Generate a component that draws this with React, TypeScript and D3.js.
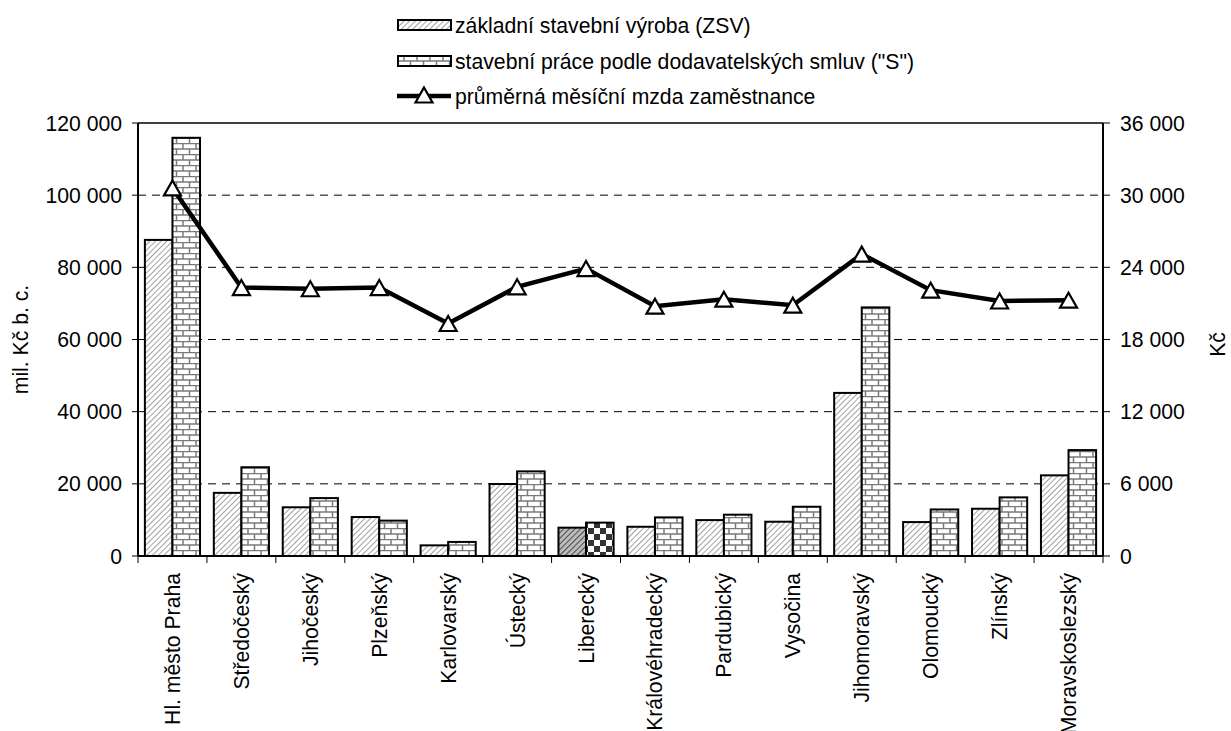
import React from "react";
import * as d3 from "d3";

const categories = [
  "Hl. město Praha",
  "Středočeský",
  "Jihočeský",
  "Plzeňský",
  "Karlovarský",
  "Ústecký",
  "Liberecký",
  "Královéhradecký",
  "Pardubický",
  "Vysočina",
  "Jihomoravský",
  "Olomoucký",
  "Zlínský",
  "Moravskoslezský",
];

const zsvValues = [87600, 17500, 13500, 10800, 2950, 19950, 7850, 8100, 9950, 9500, 45200, 9400, 13100, 22350];
const sValues = [115900, 24600, 16050, 9800, 3900, 23450, 9250, 10700, 11450, 13650, 68900, 12900, 16250, 29350];
const wageValues = [30600, 22320, 22220, 22320, 19330, 22380, 23900, 20770, 21350, 20850, 25100, 22100, 21200, 21270];

const leftTicks = [0, 20000, 40000, 60000, 80000, 100000, 120000];
const rightTicks = [0, 6000, 12000, 18000, 24000, 30000, 36000];

const legendLabels = [
  "základní stavební výroba (ZSV)",
  'stavební práce podle dodavatelských smluv ("S")',
  "průměrná měsíční mzda zaměstnance",
];

const W = 1231;
const H = 731;
const M = { left: 138, right: 1103, top: 123, bottom: 556 };
const FONT = "'Liberation Sans', Arial, sans-serif";
const FS = 21.2;

const fmt = (v: number) => d3.format(",")(v).replace(/,/g, " ");

export default function App() {
  const x = d3.scaleBand<string>().domain(categories).range([M.left, M.right]).padding(0);
  const inner = d3
    .scaleBand<string>()
    .domain(["zsv", "s"])
    .range([0, x.bandwidth()])
    .paddingInner(0)
    .paddingOuter(0.25);
  const yL = d3.scaleLinear().domain([0, 120000]).range([M.bottom, M.top]);
  const yR = d3.scaleLinear().domain([0, 36000]).range([M.bottom, M.top]);

  const cx = (c: string) => (x(c) as number) + x.bandwidth() / 2;
  const lineGen = d3
    .line<number>()
    .x((_, i) => cx(categories[i]))
    .y((d) => yR(d));

  const tri = (px: number, py: number, w = 17, h = 15) =>
    `M${px},${py - h / 2}L${px + w / 2},${py + h / 2}L${px - w / 2},${py + h / 2}Z`;

  const libIdx = categories.indexOf("Liberecký");
  const boundaries = d3.range(categories.length + 1).map((i) => M.left + i * x.step());

  return (
    <svg
      width={W}
      height={H}
      style={{ position: "fixed", left: 0, top: 0, background: "#fff" }}
      fontFamily={FONT}
    >
      <defs>
        <pattern id="hatch" patternUnits="userSpaceOnUse" width="4" height="4" patternTransform="rotate(45)">
          <rect width="4" height="4" fill="#fff" />
          <line x1="0" y1="0" x2="0" y2="4" stroke="#6e6e6e" strokeWidth="1.3" />
        </pattern>
        <pattern id="hatchDark" patternUnits="userSpaceOnUse" width="4" height="4" patternTransform="rotate(45)">
          <rect width="4" height="4" fill="#bbb" />
          <line x1="0" y1="0" x2="0" y2="4" stroke="#303030" strokeWidth="1.6" />
        </pattern>
        <pattern id="brick" patternUnits="userSpaceOnUse" width="13" height="11">
          <rect width="13" height="11" fill="#fff" />
          <line x1="0" y1="0.5" x2="13" y2="0.5" stroke="#7a7a7a" strokeWidth="1.5" />
          <line x1="0" y1="6" x2="13" y2="6" stroke="#7a7a7a" strokeWidth="1.5" />
          <line x1="1" y1="0" x2="1" y2="6" stroke="#7a7a7a" strokeWidth="1.5" />
          <line x1="7.5" y1="6" x2="7.5" y2="11" stroke="#7a7a7a" strokeWidth="1.5" />
        </pattern>
        <pattern id="checker" patternUnits="userSpaceOnUse" width="12" height="12">
          <rect width="12" height="12" fill="#fff" />
          <rect x="0" y="0" width="6" height="6" fill="#333" />
          <rect x="6" y="6" width="6" height="6" fill="#333" />
        </pattern>
      </defs>

      {/* gridlines */}
      {leftTicks
        .filter((t) => t > 0 && t < 120000)
        .map((t) => (
          <line
            key={"g" + t}
            x1={M.left}
            x2={M.right}
            y1={yL(t)}
            y2={yL(t)}
            stroke="#000"
            strokeWidth={1}
            strokeDasharray="8,6"
          />
        ))}

      {/* bars */}
      {categories.map((c, i) => {
        const x0 = x(c) as number;
        const bw = inner.bandwidth();
        const isLib = i === libIdx;
        return (
          <g key={"b" + c}>
            <rect
              x={x0 + (inner("zsv") as number)}
              y={yL(zsvValues[i])}
              width={bw}
              height={M.bottom - yL(zsvValues[i])}
              fill={isLib ? "url(#hatchDark)" : "url(#hatch)"}
              stroke="#000"
              strokeWidth={2}
            />
            <rect
              x={x0 + (inner("s") as number)}
              y={yL(sValues[i])}
              width={bw}
              height={M.bottom - yL(sValues[i])}
              fill={isLib ? "url(#checker)" : "url(#brick)"}
              stroke="#000"
              strokeWidth={2}
            />
          </g>
        );
      })}

      {/* frame */}
      <line x1={M.left} x2={M.right} y1={M.top} y2={M.top} stroke="#000" strokeWidth={1.5} />
      <line x1={M.left} x2={M.left} y1={M.top} y2={M.bottom} stroke="#000" strokeWidth={2} />
      <line x1={M.right} x2={M.right} y1={M.top} y2={M.bottom} stroke="#000" strokeWidth={2} />
      <line x1={M.left} x2={M.right} y1={M.bottom} y2={M.bottom} stroke="#000" strokeWidth={2} />

      {/* left ticks */}
      {leftTicks.map((t) => (
        <g key={"lt" + t}>
          <line x1={M.left - 6} x2={M.left} y1={yL(t)} y2={yL(t)} stroke="#000" strokeWidth={1} />
          <text x={122} y={yL(t)} textAnchor="end" dominantBaseline="central" fontSize={FS}>
            {fmt(t)}
          </text>
        </g>
      ))}
      {/* right ticks */}
      {rightTicks.map((t) => (
        <g key={"rt" + t}>
          <line x1={M.right} x2={M.right + 7} y1={yR(t)} y2={yR(t)} stroke="#000" strokeWidth={1} />
          <text x={1120} y={yR(t)} textAnchor="start" dominantBaseline="central" fontSize={FS}>
            {fmt(t)}
          </text>
        </g>
      ))}
      {/* bottom ticks */}
      {boundaries.map((bx, i) => (
        <line key={"bt" + i} x1={bx} x2={bx} y1={M.bottom} y2={M.bottom + 7} stroke="#000" strokeWidth={1} />
      ))}

      {/* category labels */}
      {categories.map((c) => (
        <text
          key={"cl" + c}
          transform={`translate(${cx(c)},573) rotate(-90)`}
          textAnchor="end"
          dominantBaseline="central"
          fontSize={FS}
        >
          {c}
        </text>
      ))}

      {/* axis titles */}
      <text
        transform={`translate(20,${(M.top + M.bottom) / 2}) rotate(-90)`}
        textAnchor="middle"
        dominantBaseline="central"
        fontSize={FS}
      >
        mil. Kč b. c.
      </text>
      <text
        transform={`translate(1217,${(M.top + M.bottom) / 2 + 5}) rotate(-90)`}
        textAnchor="middle"
        dominantBaseline="central"
        fontSize={FS}
      >
        Kč
      </text>

      {/* line series */}
      <path d={lineGen(wageValues) || ""} fill="none" stroke="#000" strokeWidth={4.5} strokeLinejoin="miter" />
      {wageValues.map((v, i) => (
        <path
          key={"m" + i}
          d={tri(cx(categories[i]), yR(v))}
          fill="#fff"
          stroke="#000"
          strokeWidth={2.2}
          strokeLinejoin="miter"
        />
      ))}

      {/* legend */}
      <g>
        <rect x={398} y={20} width={53} height={10} fill="url(#hatch)" stroke="#000" strokeWidth={2} />
        <text x={455} y={25} dominantBaseline="central" fontSize={FS}>
          {legendLabels[0]}
        </text>
        <rect x={398} y={56} width={53} height={10} fill="url(#brick)" stroke="#000" strokeWidth={2} />
        <text x={455} y={61} dominantBaseline="central" fontSize={FS}>
          {legendLabels[1]}
        </text>
        <line x1={397} x2={451} y1={96} y2={96} stroke="#000" strokeWidth={4.5} />
        <path d={tri(424, 95)} fill="#fff" stroke="#000" strokeWidth={2.2} />
        <text x={455} y={96} dominantBaseline="central" fontSize={FS}>
          {legendLabels[2]}
        </text>
      </g>
    </svg>
  );
}
